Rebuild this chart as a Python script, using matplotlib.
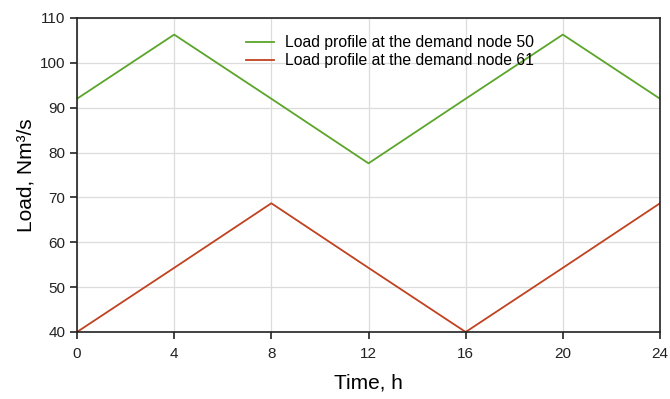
import matplotlib.pyplot as plt

plt.rcParams['font.family'] = ['Liberation Sans', 'DejaVu Sans']

hours = [0, 4, 8, 12, 16, 20, 24]
node50 = [92.0, 106.3, 92.0, 77.6, 92.0, 106.3, 92.0]
node61 = [40.0, 54.3, 68.7, 54.3, 40.0, 54.3, 68.7]

fig = plt.figure(figsize=(6.7, 3.99), dpi=100)
ax = fig.add_axes([77/670, 1 - 332/399, (660 - 77)/670, (332 - 18)/399])

ax.plot(hours, node50, color='#5aa52a', lw=1.3, label='Load profile at the demand node 50')
ax.plot(hours, node61, color='#c0421f', lw=1.3, label='Load profile at the demand node 61')

ax.set_xlim(0, 24)
ax.set_ylim(40, 110)
ax.set_xticks(hours)
ax.set_yticks(range(40, 111, 10))
ax.grid(True, color='#dcdcdc', lw=0.9)
ax.set_axisbelow(True)
for s in ax.spines.values():
    s.set_linewidth(1.2)
    s.set_color('#222222')
ax.tick_params(direction='out', length=5, width=1.2, labelsize=11, colors='#222222')
ax.tick_params(axis='x', pad=6)

ax.set_xlabel('Time, h', fontsize=15, labelpad=9)
ax.set_ylabel('Load, Nm³/s', fontsize=15, labelpad=3)

ax.legend(loc='upper left', bbox_to_anchor=(0.265, 0.99), frameon=False, fontsize=11.3,
          handlelength=1.8, labelspacing=0.2, handletextpad=0.7)

fig.savefig('out.png', dpi=100)
